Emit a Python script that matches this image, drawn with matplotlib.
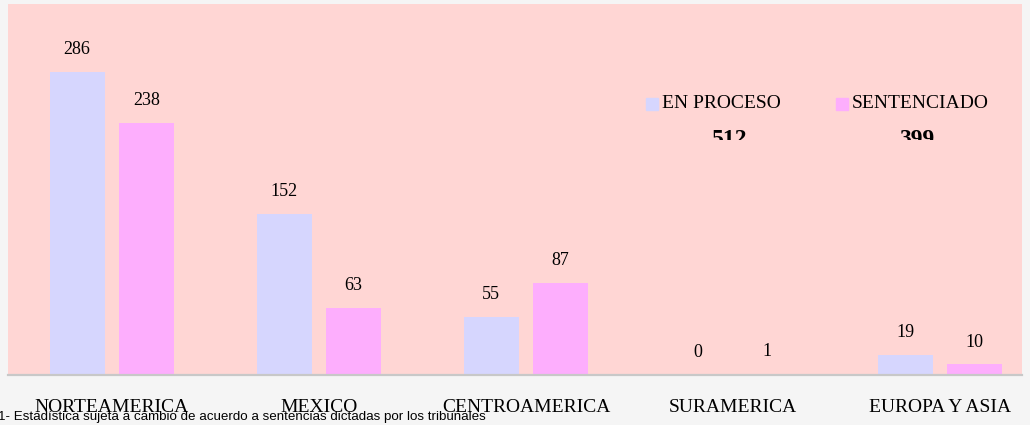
import numpy as np
import matplotlib
matplotlib.use('Agg')
import matplotlib.pyplot as plt
from matplotlib.patches import Rectangle

# ——— datos ———
regiones = ['NORTEAMERICA', 'MEXICO', 'CENTROAMERICA', 'SURAMERICA', 'EUROPA Y ASIA']
en_proceso = [286, 152, 55, 0, 19]
sentenciado = [238, 63, 87, 1, 10]
series = ['EN PROCESO', 'SENTENCIADO']
totales = ['512', '399']
nota = '1- Estadística sujeta a cambio de acuerdo a sentencias dictadas por los tribunales'

c_proc = '#d6d6fe'
c_sent = '#fdaefd'
fondo = '#ffd6d4'
serif = ['Liberation Serif', 'DejaVu Serif']

W, H = 1030, 425
fig = plt.figure(figsize=(W / 100, H / 100), dpi=100)
fig.patch.set_facecolor('#f5f5f5')
ax = fig.add_axes([8 / W, (H - 375) / H, 1014 / W, 371 / H])
ax.set_facecolor(fondo)

x = np.arange(len(regiones))
bw = 0.266
b1 = ax.bar(x - 0.168, en_proceso, bw, color=c_proc, label=series[0])
b2 = ax.bar(x + 0.166, sentenciado, bw, color=c_sent, label=series[1])

for bars in (b1, b2):
    for r in bars:
        ax.annotate(f'{int(r.get_height())}', (r.get_x() + r.get_width() / 2, r.get_height()),
                    xytext=(0, 16), textcoords='offset points', ha='center', va='center',
                    fontsize=13, family=serif)

ax.set_xlim(-0.502, 4.396)
ax.set_ylim(0, 350)
ax.set_yticks([])
ax.set_xticks(x)
ax.set_xticklabels(regiones, family=serif, fontsize=14)
ax.tick_params(axis='x', length=0, pad=17)
for s in ['top', 'left', 'right']:
    ax.spines[s].set_visible(False)
ax.spines['bottom'].set_color('#c8c8c8')
ax.spines['bottom'].set_linewidth(1.6)

# leyenda manual con totales recortados
for lx, nombre, col, tx, tot in [(646, series[0], c_proc, 730, totales[0]),
                                 (836, series[1], c_sent, 917, totales[1])]:
    fig.patches.append(Rectangle((lx / W, (H - 110) / H), 12 / W, 12 / H,
                                 transform=fig.transFigure, color=col))
    fig.text((lx + 16) / W, (H - 104) / H, nombre, family=serif, fontsize=14,
             va='center', ha='left')
    t = fig.text(tx / W, (H - 129) / H, tot, family=serif, fontsize=17,
                 va='top', ha='center', fontweight='bold')
    clip = Rectangle((0, (H - 140) / H), 1, 1, transform=fig.transFigure)
    t.set_clip_path(clip)

fig.text(-2 / W, (H - 417) / H, nota, family=['Liberation Sans', 'DejaVu Sans'],
         fontsize=9.6, va='center', ha='left')

fig.savefig('out.png', dpi=100, facecolor=fig.get_facecolor())
